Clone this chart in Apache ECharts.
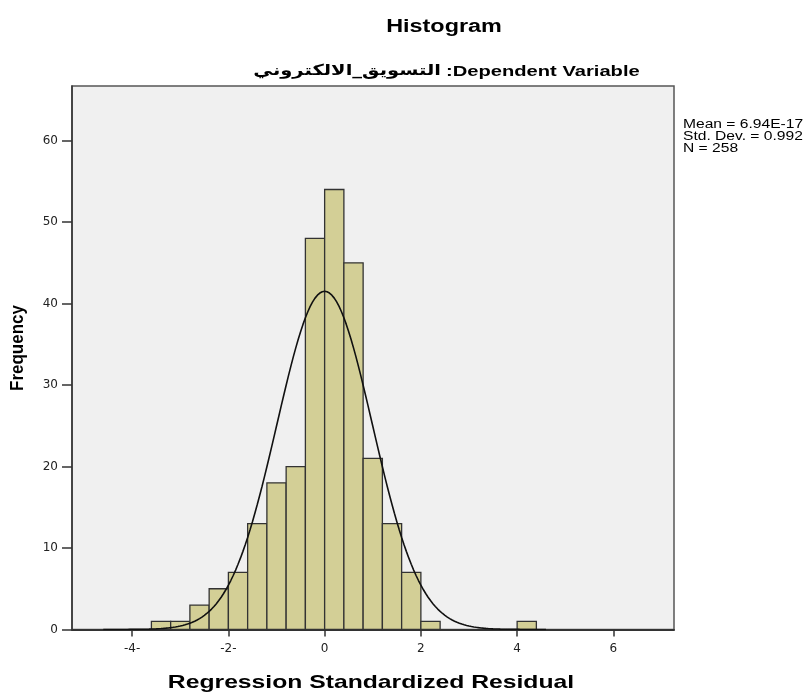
<!DOCTYPE html>
<html><head><meta charset="utf-8">
<script src="https://cdn.jsdelivr.net/npm/echarts@6/dist/echarts.min.js"></script>
<style>html,body{margin:0;padding:0;background:#fff}#c{width:808px;height:695px}</style>
</head><body><div id="c"></div>
<script>
// ---- data ----
const binStarts = [-3.6,-3.2,-2.8,-2.4,-2.0,-1.6,-1.2,-0.8,-0.4,0.0,0.4,0.8,1.2,1.6,2.0,4.0];
const binWidth = 0.4;
const frequencies = [1,1,3,5,7,13,18,20,48,54,45,21,13,7,1,1];
const xTicks = [-4,-2,0,2,4,6];
const yTicks = [0,10,20,30,40,50,60];
const statMean = 6.94e-17;
const statStdDev = 0.992;
const statN = 258;
const statsLines = ['Mean = 6.94E-17','Std. Dev. = 0.992','N = 258'];
const titleText = 'Histogram';
const subtitleLatin = ':Dependent Variable';
const subtitleArabic = 'التسويق_الالكتروني';
const xName = 'Regression Standardized Residual';
const yName = 'Frequency';

// fitted normal curve scaled to counts (defined by the stated mean, SD and N)
const curve = [];
for (let i = -92; i <= 92; i++) {
  const x = i * 0.05;
  const z = (x - statMean) / statStdDev;
  curve.push([x, statN * binWidth * Math.exp(-0.5 * z * z) / (statStdDev * Math.sqrt(2 * Math.PI))]);
}
const barData = binStarts.map((s, i) => [s, s + binWidth, frequencies[i]]);

const chart = echarts.init(document.getElementById('c'), null, {renderer: 'canvas'});
const SX = 1.3;
const FONT = '"Liberation Sans", Arial, sans-serif';
const option = {
  backgroundColor: '#ffffff',
  animation: false,
  grid: {
    left: 72, top: 86, right: 134, bottom: 65.5,
    show: true, backgroundColor: '#f0f0f0', borderColor: '#555', borderWidth: 1.5,
    containLabel: false, outerBoundsMode: 'none'
  },
  xAxis: {
    type: 'value', min: -5.25, max: 7.26,
    axisLine: {show: true, onZero: false, lineStyle: {color: '#333', width: 2}},
    axisTick: {show: true, customValues: xTicks, length: 7, lineStyle: {color: '#333', width: 1.5}},
    axisLabel: {
      customValues: xTicks, margin: 13, color: '#222', fontFamily: '"DejaVu Sans", sans-serif', fontSize: 12,
      formatter: v => (v < 0 ? v + '-' : String(v))
    },
    splitLine: {show: false}
  },
  yAxis: {
    type: 'value', min: 0, max: 66.7,
    axisLine: {show: true, onZero: false, lineStyle: {color: '#333', width: 1.5}},
    axisTick: {show: true, customValues: yTicks, length: 10, lineStyle: {color: '#333', width: 1.5}},
    axisLabel: {customValues: yTicks, margin: 14, color: '#222', fontFamily: '"DejaVu Sans", sans-serif', fontSize: 12},
    splitLine: {show: false}
  },
  series: [
    {
      type: 'custom',
      data: barData,
      z: 2,
      renderItem: function (params, api) {
        const p0 = api.coord([api.value(0), api.value(2)]);
        const p1 = api.coord([api.value(1), 0]);
        return {
          type: 'rect',
          shape: {x: p0[0], y: p0[1], width: p1[0] - p0[0], height: p1[1] - p0[1]},
          style: {fill: '#d3cf96', stroke: '#333', lineWidth: 1.3}
        };
      }
    },
    {
      type: 'line', data: curve, showSymbol: false, symbol: 'none', z: 3,
      lineStyle: {color: '#111', width: 1.6}
    }
  ],
  graphic: [
    {type: 'text', x: 444, y: 27, scaleX: SX, z: 10,
     style: {text: titleText, x: 0, y: 0, align: 'center', verticalAlign: 'middle', font: 'bold 18px ' + FONT, fill: '#000'}},
    {type: 'text', x: 446, y: 72, scaleX: SX, z: 10,
     style: {text: subtitleLatin, x: 0, y: 0, align: 'left', verticalAlign: 'middle', font: 'bold 15.5px ' + FONT, fill: '#000'}},
    {type: 'text', x: 441, y: 71, scaleX: SX, z: 10,
     style: {text: subtitleArabic, x: 0, y: 0, align: 'right', verticalAlign: 'middle', font: 'bold 15px "DejaVu Sans", sans-serif', fill: '#000'}},
    {type: 'text', x: 371, y: 683, scaleX: SX, z: 10,
     style: {text: xName, x: 0, y: 0, align: 'center', verticalAlign: 'middle', font: 'bold 19px ' + FONT, fill: '#000'}},
    {type: 'text', x: 18, y: 348, rotation: Math.PI / 2, scaleY: 1.1, z: 10,
     style: {text: yName, x: 0, y: 0, align: 'center', verticalAlign: 'middle', font: 'bold 17px ' + FONT, fill: '#000'}},
    {type: 'text', x: 683, y: 119, scaleX: SX, z: 10,
     style: {text: statsLines.join('\n'), x: 0, y: 0, align: 'left', verticalAlign: 'top', lineHeight: 12, font: '12px ' + FONT, fill: '#000'}}
  ]
};
chart.setOption(option);
</script></body></html>
